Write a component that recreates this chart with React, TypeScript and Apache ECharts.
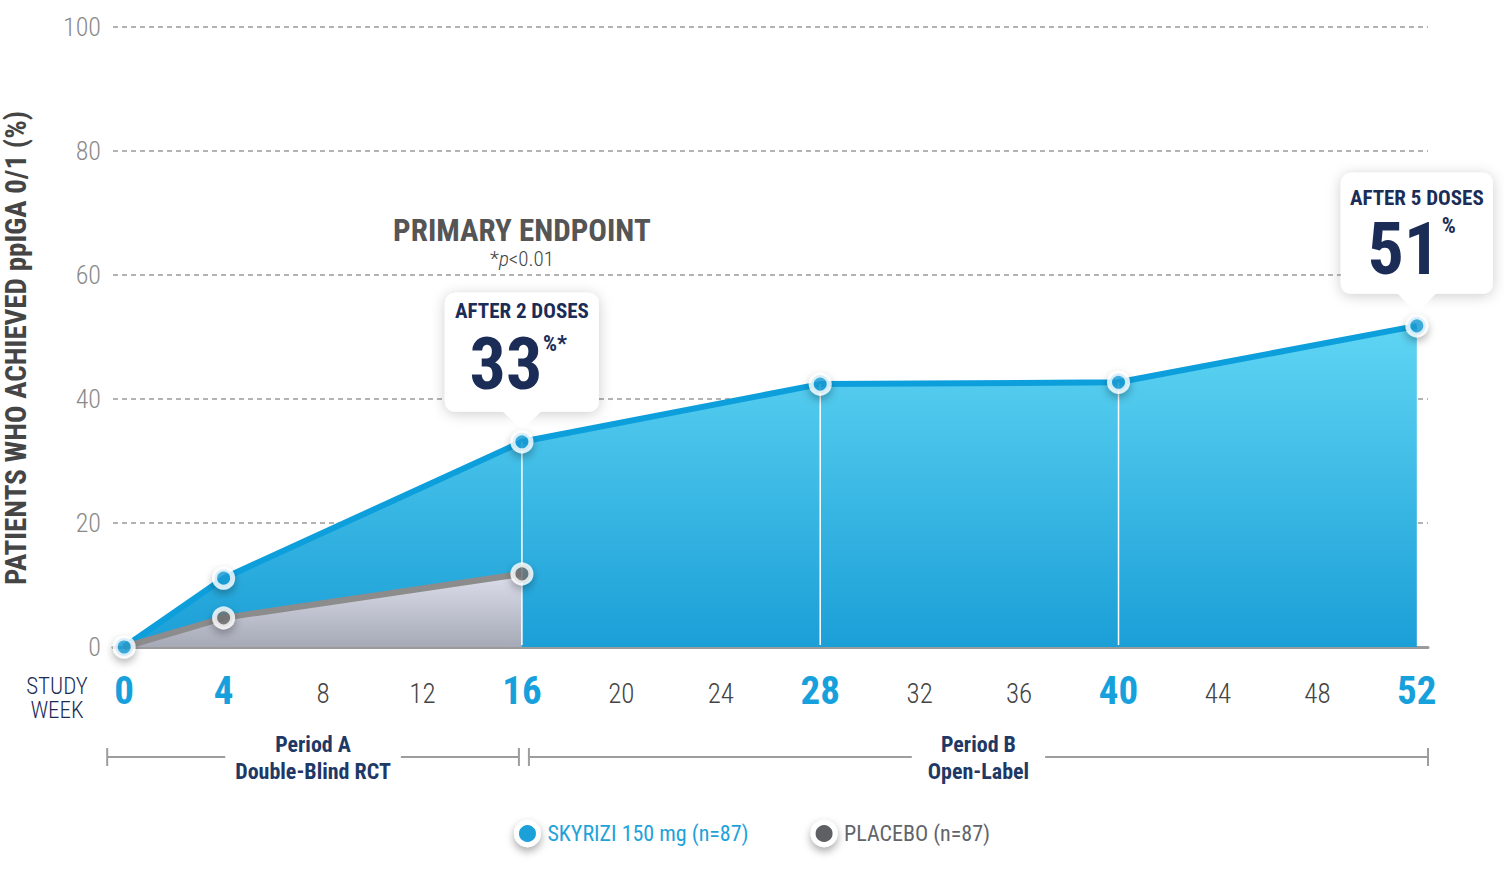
import { useEffect, useRef } from 'react';
import * as echarts from 'echarts';

const WEEK_TICKS = [0, 4, 8, 12, 16, 20, 24, 28, 32, 36, 40, 44, 48, 52];
const KEY_WEEKS = [0, 4, 16, 28, 40, 52];

const SKYRIZI_NAME = 'SKYRIZI 150 mg (n=87)';
const SKYRIZI_WEEKS = [0, 4, 16, 28, 40, 52];
const SKYRIZI_VALUES = [0, 11.1, 33.1, 42.4, 42.7, 51.8];

const PLACEBO_NAME = 'PLACEBO (n=87)';
const PLACEBO_WEEKS = [0, 4, 16];
const PLACEBO_VALUES = [0, 4.7, 11.8];

const DIVIDER_WEEKS = [16, 28, 40];

const COND = "'Roboto Condensed', 'Liberation Sans Narrow', 'DejaVu Sans Condensed', 'Arial Narrow', sans-serif";
const BLUE = '#0d9fdc';
const NAVY = '#1b2d57';
const GRAY_LINE = '#8c8c8c';

const skyPoints = SKYRIZI_WEEKS.map((w, i) => [w, SKYRIZI_VALUES[i]]);
const placeboPoints = PLACEBO_WEEKS.map((w, i) => [w, PLACEBO_VALUES[i]]);
const valueAt = (w: number) => SKYRIZI_VALUES[SKYRIZI_WEEKS.indexOf(w)];

const symbolStyle = (color: string) => ({
  color,
  borderColor: '#fff',
  borderWidth: 5,
  shadowBlur: 9,
  shadowColor: 'rgba(0,0,0,0.35)',
  shadowOffsetY: 4,
});

function txt(x: number, y: number, text: string, style: any) {
  return {
    type: 'text',
    x,
    y,
    style: {
      text,
      fontFamily: COND,
      align: 'center',
      verticalAlign: 'middle',
      textAlign: 'center',
      textVerticalAlign: 'middle',
      ...style,
    },
  };
}

const boxStyle = {
  fill: '#fff',
  shadowBlur: 14,
  shadowColor: 'rgba(0,0,0,0.2)',
  shadowOffsetY: 2,
};

export default function App() {
  const ref = useRef<HTMLDivElement | null>(null);

  useEffect(() => {
    if (!ref.current) return;
    const chart = echarts.init(ref.current, undefined, { renderer: 'svg' });

    chart.setOption({
      animation: false,
      backgroundColor: '#fff',
      grid: { left: 113, right: 76, top: 27, bottom: 223 },
      legend: {
        left: 'center',
        top: 815,
        icon: 'circle',
        itemWidth: 22,
        itemHeight: 22,
        itemGap: 62,
        textStyle: { fontFamily: COND, fontSize: 22, padding: [0, 0, 0, 4] },
        data: [
          { name: SKYRIZI_NAME, itemStyle: symbolStyle('#1ba0da'), textStyle: { color: '#1ea2da' } },
          { name: PLACEBO_NAME, itemStyle: symbolStyle('#5e6064'), textStyle: { color: '#626469' } },
        ],
      },
      xAxis: {
        type: 'value',
        min: -0.45,
        max: 52.45,
        splitLine: { show: false },
        axisTick: { show: false },
        axisLine: { show: true, lineStyle: { color: '#9b9b9b', width: 3 } },
        axisLabel: {
          customValues: WEEK_TICKS,
          margin: 44,
          verticalAlign: 'middle',
          formatter: (v: number) => (KEY_WEEKS.includes(v) ? `{k|${v}}` : `{n|${v}}`),
          rich: {
            k: { fontFamily: COND, fontSize: 39, fontWeight: 'bold', color: '#16a0dc' },
            n: { fontFamily: COND, fontSize: 27, fontWeight: 300, color: '#444', padding: [6, 0, 0, 0] },
          },
        },
      },
      yAxis: {
        type: 'value',
        min: 0,
        max: 100,
        interval: 20,
        axisLine: { show: false },
        axisTick: { show: false },
        axisLabel: { margin: 12, color: '#8a8a8a', fontSize: 26, fontWeight: 300, fontFamily: COND },
        splitLine: { lineStyle: { color: '#9a9a9a', width: 1.5, type: [5, 4] } },
      },
      series: [
        {
          name: SKYRIZI_NAME,
          type: 'line',
          data: skyPoints,
          showSymbol: false,
          z: 1,
          lineStyle: { color: BLUE, width: 6 },
          itemStyle: { color: BLUE },
          areaStyle: {
            opacity: 1,
            color: new echarts.graphic.LinearGradient(0, 0, 0, 1, [
              { offset: 0, color: '#5fd5f3' },
              { offset: 1, color: '#1b9fd7' },
            ]),
          },
        },
        {
          name: PLACEBO_NAME,
          type: 'line',
          data: placeboPoints,
          showSymbol: false,
          z: 2,
          lineStyle: { color: GRAY_LINE, width: 6 },
          itemStyle: { color: GRAY_LINE },
          areaStyle: {
            opacity: 1,
            color: new echarts.graphic.LinearGradient(0, 0, 0, 1, [
              { offset: 0, color: '#dcdfeb' },
              { offset: 1, color: '#a6a9b6' },
            ]),
          },
        },
        {
          name: 'dividers',
          type: 'custom',
          z: 3,
          silent: true,
          encode: { x: 0, y: 1 },
          data: DIVIDER_WEEKS.map((w) => [w, valueAt(w)]),
          renderItem: (_params: any, api: any) => {
            const top = api.coord([api.value(0), api.value(1)]);
            const bottom = api.coord([api.value(0), 0]);
            return {
              type: 'line',
              shape: { x1: top[0], y1: top[1], x2: bottom[0], y2: bottom[1] - 2 },
              style: { stroke: '#fff', lineWidth: 1.5 },
            };
          },
        },
        {
          name: 'placebo-points',
          type: 'scatter',
          z: 4,
          symbolSize: 18,
          data: placeboPoints.filter((p) => p[0] !== 0),
          itemStyle: symbolStyle('#737373'),
        },
        {
          name: 'skyrizi-points',
          type: 'scatter',
          z: 5,
          symbolSize: 18,
          data: skyPoints,
          itemStyle: symbolStyle('#1a9fd8'),
        },
      ],
    });

    const px = (w: number, v: number) => chart.convertToPixel({ gridIndex: 0 }, [w, v]) as number[];
    const [a1x, a1y] = px(16, valueAt(16));
    const [a2x, a2y] = px(52, valueAt(52));
    const [a3x, a3y] = px(16, PLACEBO_VALUES[2]);
    const w0 = px(0, 0)[0];
    const gridRight = px(52.45, 0)[0];

    const bracketY = 757;
    const aL = w0 - 17;
    const aR = a1x - 3;
    const bL = a1x + 7;
    const bR = gridRight;
    const bracketLine = (x1: number, x2: number) => ({
      type: 'line',
      shape: { x1, y1: bracketY, x2, y2: bracketY },
      style: { stroke: '#9d9d9d', lineWidth: 2 },
    });
    const bracketTick = (x: number) => ({
      type: 'line',
      shape: { x1: x, y1: bracketY - 9, x2: x, y2: bracketY + 9 },
      style: { stroke: '#9d9d9d', lineWidth: 2 },
    });
    const periodText = (x: number, text: string, pad: number) =>
      txt(x, bracketY + 1, text, {
        fontSize: 22,
        fontWeight: 'bold',
        fill: '#1f3966',
        lineHeight: 27,
        backgroundColor: '#fff',
        padding: [0, pad],
      });

    chart.setOption({
      graphic: [
        // y axis title
        {
          type: 'text',
          x: 16,
          y: 348,
          rotation: Math.PI / 2,
          style: {
            text: 'PATIENTS WHO ACHIEVED ppIGA 0/1 (%)',
            fontFamily: COND,
            fontSize: 29,
            fontWeight: 'bold',
            fill: '#454545',
            align: 'center',
            verticalAlign: 'middle',
            textAlign: 'center',
            textVerticalAlign: 'middle',
          },
        },
        txt(57, 698, 'STUDY\nWEEK', { fontSize: 23, fontWeight: 300, fill: NAVY, lineHeight: 24 }),
        // primary endpoint
        txt(a1x, a1y - 211, 'PRIMARY ENDPOINT', { fontSize: 31, fontWeight: 'bold', fill: '#555' }),
        txt(a1x, a1y - 183, '{a|*}{b|p}{a|<0.01}', {
          rich: {
            a: { fontFamily: COND, fontSize: 21, fontWeight: 300, fill: '#444', color: '#444' },
            b: { fontFamily: COND, fontSize: 21, fontWeight: 300, fontStyle: 'italic', fill: '#444', color: '#444' },
          },
        }),
        // callout after 2 doses
        { type: 'rect', shape: { x: a1x - 77, y: a1y - 149, width: 154, height: 119, r: 10 }, style: boxStyle },
        {
          type: 'polygon',
          shape: { points: [[a1x - 20, a1y - 31], [a1x + 20, a1y - 31], [a1x, a1y - 12]] },
          style: { fill: '#fff' },
        },
        txt(a1x, a1y - 131, 'AFTER 2 DOSES', { fontSize: 21, lineHeight: 21, fontWeight: 'bold', fill: NAVY }),
        txt(a1x - 16, a1y - 77, '33', { fontSize: 72, lineHeight: 60, fontWeight: 'bold', fill: NAVY }),
        txt(a1x + 21, a1y - 98, '%*', {
          fontSize: 22,
          lineHeight: 22,
          fontWeight: 'bold',
          fill: NAVY,
          align: 'left',
          textAlign: 'left',
        }),
        // callout after 5 doses
        { type: 'rect', shape: { x: a2x - 76, y: a2y - 153, width: 152, height: 121, r: 10 }, style: boxStyle },
        {
          type: 'polygon',
          shape: { points: [[a2x - 20, a2y - 33], [a2x + 20, a2y - 33], [a2x, a2y - 12]] },
          style: { fill: '#fff' },
        },
        txt(a2x, a2y - 128, 'AFTER 5 DOSES', { fontSize: 21, lineHeight: 21, fontWeight: 'bold', fill: NAVY }),
        txt(a2x - 13, a2y - 76, '51', { fontSize: 72, lineHeight: 60, fontWeight: 'bold', fill: NAVY }),
        txt(a2x + 25, a2y - 100, '%', {
          fontSize: 22,
          lineHeight: 22,
          fontWeight: 'bold',
          fill: NAVY,
          align: 'left',
          textAlign: 'left',
        }),
        // callout placebo 16%
        { type: 'rect', shape: { x: a3x + 33, y: a3y - 39, width: 142, height: 82, r: 10 }, style: boxStyle },
        {
          type: 'polygon',
          shape: { points: [[a3x + 34, a3y - 14], [a3x + 34, a3y + 14], [a3x + 16, a3y]] },
          style: { fill: '#fff' },
        },
        txt(a3x + 92, a3y + 3, '16', { fontSize: 84, lineHeight: 70, fontWeight: 'bold', fill: '#5f6166' }),
        txt(a3x + 135, a3y - 18, '%', {
          fontSize: 30,
          lineHeight: 28,
          fontWeight: 'bold',
          fill: '#5f6166',
          align: 'left',
          textAlign: 'left',
        }),
        // period brackets
        bracketLine(aL, aR),
        bracketTick(aL),
        bracketTick(aR),
        bracketLine(bL, bR),
        bracketTick(bL),
        bracketTick(bR),
        periodText((aL + aR) / 2, 'Period A\nDouble-Blind RCT', 10),
        periodText((bL + bR) / 2, 'Period B\nOpen-Label', 16),
      ],
    });

    return () => chart.dispose();
  }, []);

  return (
    <div
      ref={ref}
      style={{ position: 'fixed', left: 0, top: 0, width: 1504, height: 870, background: '#fff' }}
    />
  );
}
